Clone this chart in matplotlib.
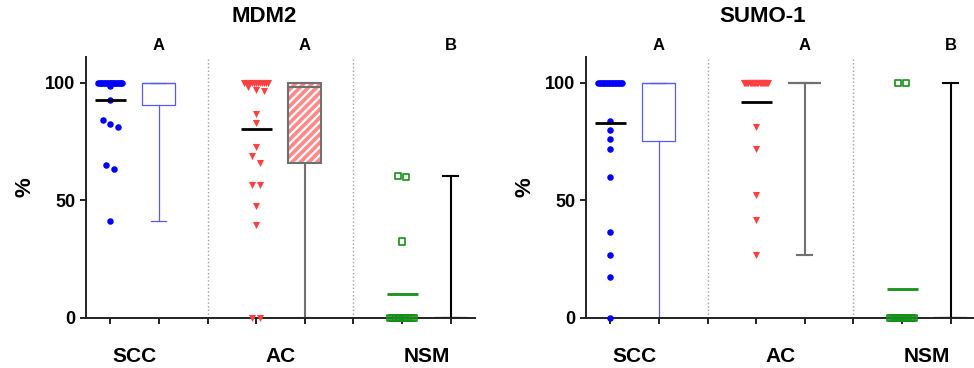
import numpy as np
import matplotlib.pyplot as plt
from matplotlib.patches import PathPatch

plt.rcParams['font.family'] = ['Liberation Sans', 'DejaVu Sans']
plt.rcParams['font.weight'] = 'bold'
plt.rcParams['hatch.linewidth'] = 1.6

# values (% per sample)
categories = ['SCC', 'AC', 'NSM']
letters = ['A', 'A', 'B']
titles = ['MDM2', 'SUMO-1']

mdm2_scc = [100, 100, 100, 100, 100, 100, 100, 100, 100,
            100, 100, 100, 100, 100, 100, 100, 100, 100,
            98.7, 92.8, 84.3, 82.4, 81.4, 65.0, 63.4, 41.4]
mdm2_ac = [100, 100, 100, 100, 100, 100, 100, 100, 100, 100, 100, 100, 100,
           98.4, 96.9, 96.6, 86.7, 83.0, 72.6, 68.8, 66.0, 56.6, 56.6,
           47.8, 39.6, 0, 0]
mdm2_nsm = [60.3, 59.9, 32.5, 0, 0, 0, 0, 0, 0, 0, 0, 0, 0, 0, 0]

sumo_scc = [100, 100, 100, 100, 100, 100, 100, 100, 100,
            100, 100, 100, 100, 100, 100, 100, 100,
            83.8, 80.0, 76.2, 71.8, 59.9, 36.5, 26.7, 17.6, 0]
sumo_ac = [100, 100, 100, 100, 100, 100, 100, 100, 100, 100, 100, 100,
           100, 100, 100, 100, 100, 100, 100, 100, 100, 100, 100,
           81.3, 71.8, 52.5, 41.7, 26.9]
sumo_nsm = [100, 100, 0, 0, 0, 0, 0, 0, 0, 0, 0, 0, 0, 0, 0, 0]

panels = [[mdm2_scc, mdm2_ac, mdm2_nsm], [sumo_scc, sumo_ac, sumo_nsm]]

styles = [
    dict(color='#0000ff', marker='o', s=22, mean='black',
         box_face='white', box_edge='#5a5af0', lw=0.9, hatch=None),
    dict(color='#ff4040', marker='v', s=26, mean='black',
         box_face='#ff8a8a', box_edge='#707070', lw=1.5, hatch='////'),
    dict(color='#16901a', marker='s', s=20, mean='#16901a',
         box_face='white', box_edge='black', lw=1.5, hatch=None),
]


def swarm_offsets(values, band_half=0.25, step=0.16, tol=3.0, band_min=3):
    """Spread tied / close values sideways, GraphPad-like."""
    values = np.asarray(values, float)
    offs = np.zeros(len(values))
    uniq, counts = np.unique(values, return_counts=True)
    rest = []
    for v, c in zip(uniq, counts):
        idx = np.where(values == v)[0]
        if c >= band_min:
            offs[idx] = np.linspace(-band_half, band_half, c)
        else:
            rest.extend(idx)
    rest = sorted(rest, key=lambda i: -values[i])
    clusters = []
    for i in rest:
        if clusters and values[clusters[-1][-1]] - values[i] < tol:
            clusters[-1].append(i)
        else:
            clusters.append([i])
    for cl in clusters:
        k = len(cl)
        for j, i in enumerate(cl):
            offs[i] = (j - (k - 1) / 2) * step
    return offs


def draw_panel(ax, groups):
    for gi, vals in enumerate(groups):
        st = styles[gi]
        px = 1 + 3 * gi
        bx = 2 + 3 * gi
        vals = np.asarray(vals, float)

        # scatter column
        offs = swarm_offsets(vals)
        if st['marker'] == 's':
            ax.scatter(px + offs, vals, s=st['s'], marker='s',
                       facecolors='none', edgecolors=st['color'],
                       linewidths=1.2, zorder=3, clip_on=False)
        else:
            ax.scatter(px + offs, vals, s=st['s'], marker=st['marker'],
                       color=st['color'], linewidths=0, zorder=3,
                       clip_on=False)
        ax.hlines(vals.mean(), px - 0.32, px + 0.32, color=st['mean'],
                  lw=2.0, zorder=4)

        # box column (min-max whiskers)
        q1, med, q3 = np.percentile(vals, [25, 50, 75], method='weibull')
        stats = [dict(med=med, q1=q1, q3=q3, whislo=vals.min(),
                      whishi=vals.max(), fliers=[])]
        line = dict(color=st['box_edge'], linewidth=st['lw'])
        bp = ax.bxp(stats, positions=[bx], widths=0.68, capwidths=0.31,
                    patch_artist=True, showfliers=False, manage_ticks=False,
                    boxprops=dict(facecolor=st['box_face'],
                                  edgecolor=st['box_edge'],
                                  linewidth=st['lw']),
                    whiskerprops=line, capprops=line, medianprops=line)
        if st['hatch']:
            box = bp['boxes'][0]
            box.set_edgecolor('white')
            box.set_hatch(st['hatch'])
            box.set_linewidth(0)
            ax.add_patch(PathPatch(box.get_path(), fill=False,
                                   edgecolor=st['box_edge'],
                                   linewidth=st['lw'], zorder=2.1))

        ax.text(bx, 115.7, letters[gi], ha='center', va='center',
                fontsize=12, fontweight='bold', clip_on=False)

    for sep in (3, 6):
        ax.axvline(sep, color='#a0a0a0', ls=':', lw=1.0, zorder=1)

    ax.set_xlim(0.5, 8.5)
    ax.set_ylim(0, 111)
    ax.set_yticks([0, 50, 100])
    ax.set_xticks(np.arange(1, 9))
    ax.set_xticklabels([])
    ax.set_xticks([1.5, 4.5, 7.5], minor=True)
    ax.set_xticklabels(categories, minor=True, fontsize=15,
                       fontweight='bold')
    ax.tick_params(axis='x', which='minor', length=0, pad=21)
    ax.tick_params(axis='x', which='major', length=4.5, width=1.4,
                   color='#222222')
    ax.tick_params(axis='y', length=4, width=1.4, pad=3.5, labelsize=13,
                   color='#222222')
    for lab in ax.get_yticklabels():
        lab.set_fontweight('bold')
    for side in ('top', 'right'):
        ax.spines[side].set_visible(False)
    for side in ('left', 'bottom'):
        ax.spines[side].set_linewidth(1.4)
        ax.spines[side].set_color('#222222')
    ax.set_ylabel('%', fontsize=16, fontweight='bold')
    ax.yaxis.set_label_coords(-0.13, 0.5)


W, H = 974, 368
fig = plt.figure(figsize=(W / 100, H / 100), dpi=100)
title_x = [264, 763]
for k, left in enumerate([86, 586]):
    ax = fig.add_axes([left / W, 50 / H, 389 / W, 261 / H])
    draw_panel(ax, panels[k])
    fig.text(title_x[k] / W, 1 - 17 / H, titles[k], ha='center',
             va='center', fontsize=16, fontweight='bold')

fig.savefig('out.png', dpi=100)
